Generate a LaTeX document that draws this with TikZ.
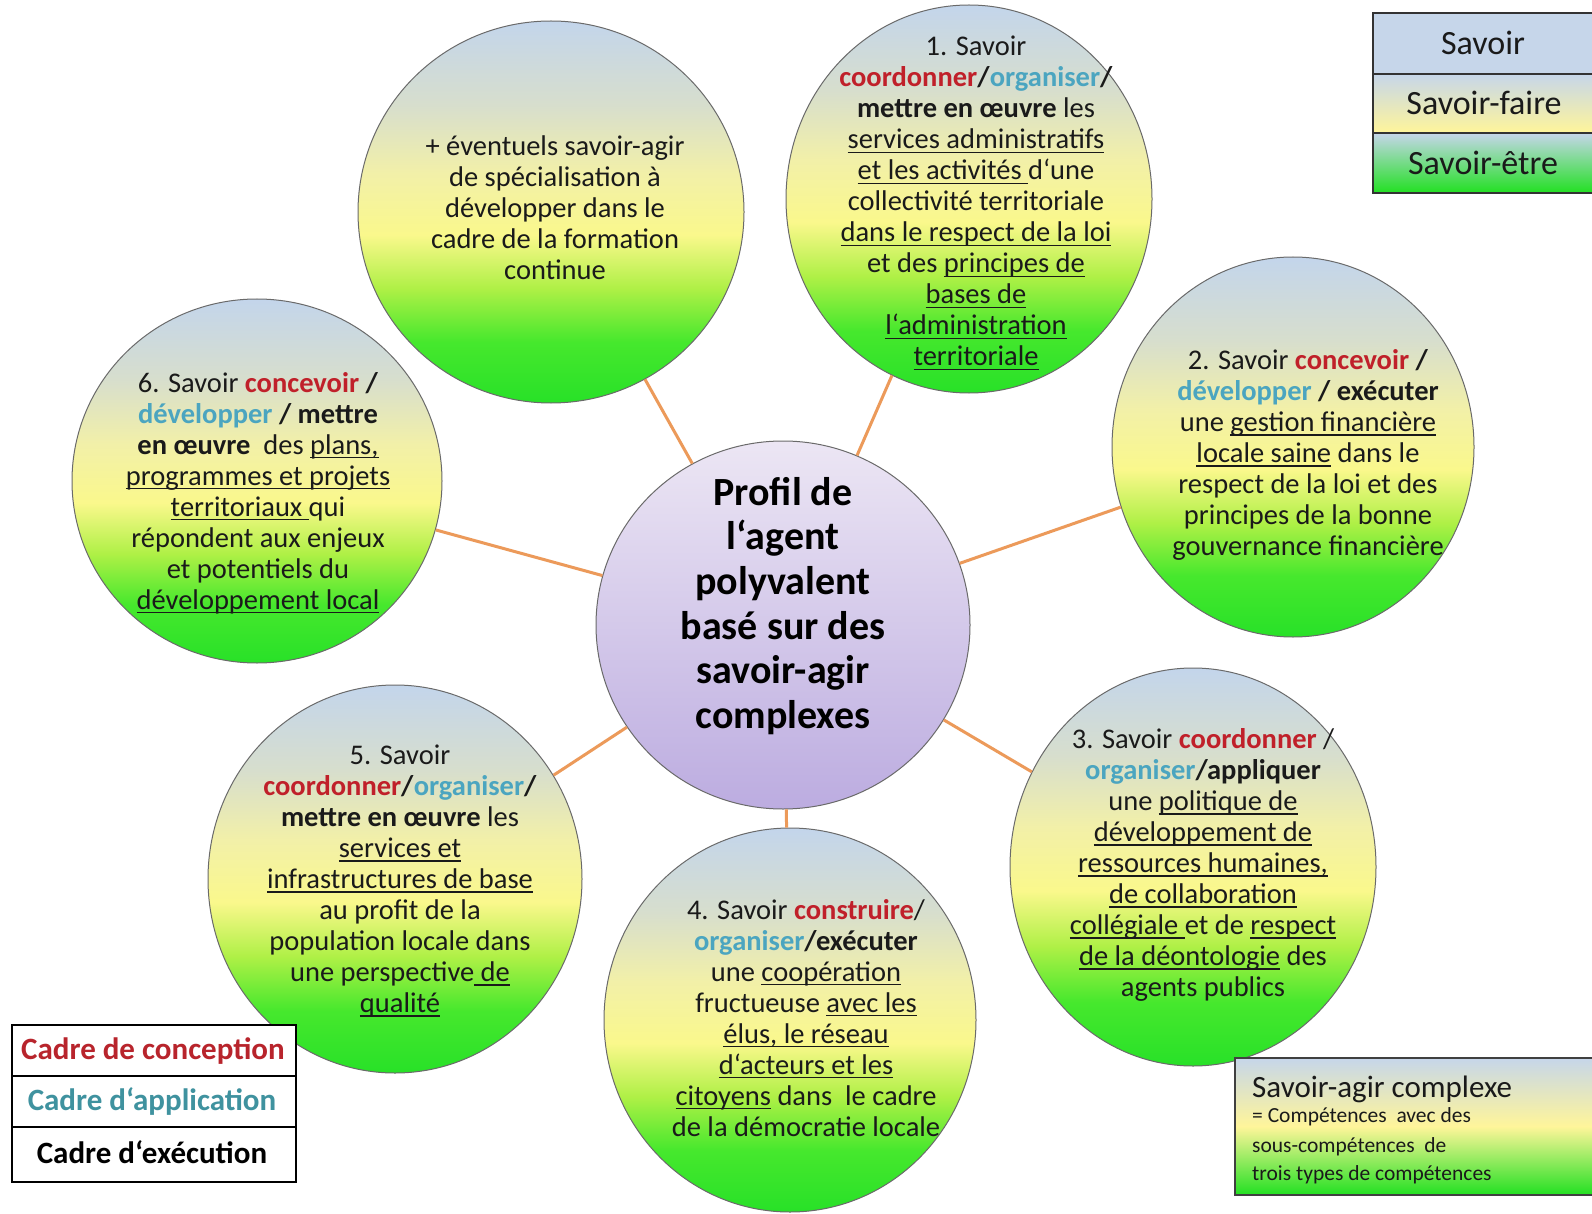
\documentclass[tikz,border=0pt]{standalone}
\usepackage{fontspec}
\setmainfont{Carlito}
\usetikzlibrary{shapes.geometric}
\definecolor{g0}{HTML}{28E128}
\definecolor{g1}{HTML}{46E82D}
\definecolor{g2}{HTML}{AFF046}
\definecolor{g3}{HTML}{FAF88C}
\definecolor{g4}{HTML}{F2F0A8}
\definecolor{g5}{HTML}{D7DECD}
\definecolor{g6}{HTML}{C3D5EB}
\definecolor{cred}{HTML}{C0202A}
\definecolor{cteal}{HTML}{4BA5C0}
\definecolor{txt}{HTML}{1A1A1A}
\definecolor{corange}{HTML}{EC9A5A}
\definecolor{cgray}{HTML}{6A6A6A}
\definecolor{lavtop}{HTML}{ECE6F4}
\definecolor{lavbot}{HTML}{BCACE0}
\definecolor{lgblue}{HTML}{C6D6EA}
\definecolor{lgyellow}{HTML}{FFF59A}
\definecolor{lggreen}{HTML}{22E022}
\definecolor{lgred}{HTML}{B8242C}
\definecolor{lgteal}{HTML}{3F929F}
\pgfdeclareverticalshading{circshade}{100bp}{color(0bp)=(g0); color(25bp)=(g0); color(33bp)=(g1); color(40bp)=(g2); color(47bp)=(g3); color(55bp)=(g4); color(64bp)=(g5); color(75bp)=(g6); color(100bp)=(g6)}
\newcommand\uu[1]{\setbox0\hbox{#1}\rlap{\rule[-4pt]{\wd0}{1.2pt}}\box0\relax}
\newcommand\redw[1]{\textbf{\textcolor{cred}{#1}}}
\newcommand\tealw[1]{\textbf{\textcolor{cteal}{#1}}}
\begin{document}
\begin{tikzpicture}[x=1pt,y=-1pt,
  bubble/.style={ellipse, draw=cgray, line width=1pt, shading=circshade, inner sep=0pt},
  hub/.style={ellipse, draw=cgray, line width=1pt, top color=lavtop, bottom color=lavbot, inner sep=0pt},
  body/.style={align=center, inner sep=0pt, text=txt, font=\fontsize{28.5}{31}\selectfont},
  hubtext/.style={align=center, inner sep=0pt, text=black, font=\fontsize{40}{44.7}\selectfont\bfseries},
  conn/.style={draw=corange, line width=3pt},
  legtext/.style={inner sep=0pt, font=\fontsize{34}{40}\selectfont},
  cadre/.style={inner sep=0pt, font=\fontsize{31}{36}\selectfont\bfseries},
  agirsmall/.style={inner sep=0pt, anchor=base west, text=txt, font=\fontsize{21.5}{29}\selectfont}]
\clip (0,0) rectangle (1592,1214);
\fill[white] (0,0) rectangle (1592,1214);

% bubbles
\node[hub, minimum width=374pt, minimum height=368pt] (c0) at (783,625) {};
\node[bubble, minimum width=386pt, minimum height=382pt] (c7) at (551,212) {};
\node[bubble, minimum width=366pt, minimum height=388pt] (c1) at (969,199) {};
\node[bubble, minimum width=362pt, minimum height=380pt] (c2) at (1293,447) {};
\node[bubble, minimum width=366pt, minimum height=398pt] (c3) at (1193,867) {};
\node[bubble, minimum width=372pt, minimum height=384pt] (c4) at (790,1020) {};
\node[bubble, minimum width=374pt, minimum height=388pt] (c5) at (395,879) {};
\node[bubble, minimum width=370pt, minimum height=364pt] (c6) at (257,481) {};

% connectors
\draw[conn] (c0) -- (c7);
\draw[conn] (c0) -- (c1);
\draw[conn] (c0) -- (c2);
\draw[conn] (c0) -- (c3);
\draw[conn] (c0) -- (c4);
\draw[conn] (c0) -- (c5);
\draw[conn] (c0) -- (c6);

% texts
\node[hubtext] (t0) at (783,606) {Profil de\\l‘agent\\polyvalent\\basé sur des\\savoir-agir\\complexes};

\node[body] (t7) at (555,208) {+ éventuels savoir-agir\\de spécialisation à\\développer dans le\\cadre de la formation\\continue};

\node[body] (t1) at (976,203) {1. Savoir\\\redw{coordonner}\textbf{/}\tealw{organiser}\textbf{/}\\\textbf{mettre en œuvre} les\\\uu{services administratifs}\\\uu{et les activités }d‘une\\collectivité territoriale\\\uu{dans le respect de la loi}\\et des \uu{principes de}\\\uu{bases de}\\\uu{l‘administration}\\\uu{territoriale}};

\node[body] (t2) at (1308,455) {2. Savoir \redw{concevoir} \textbf{/}\\\tealw{développer} \textbf{/ exécuter}\\une \uu{gestion financière}\\\uu{locale saine} dans le\\respect de la loi et des\\principes de la bonne\\gouvernance financière};

\node[body] (t3) at (1203,865) {3. Savoir \redw{coordonner} /\\\tealw{organiser}\textbf{/appliquer}\\une \uu{politique de}\\\uu{développement de}\\\uu{ressources humaines,}\\\uu{de collaboration}\\\uu{collégiale }et de \uu{respect}\\\uu{de la déontologie} des\\agents publics};

\node[body] (t4) at (806,1018) {4. Savoir \redw{construire}/\\\tealw{organiser}\textbf{/exécuter}\\une \uu{coopération}\\fructueuse \uu{avec les}\\\uu{élus, le réseau}\\\uu{d‘acteurs et les}\\\uu{citoyens} dans~ le cadre\\de la démocratie locale};

\node[body] (t5) at (400,881) {5. Savoir\\\redw{coordonner}\textbf{/}\tealw{organiser}\textbf{/}\\\textbf{mettre en œuvre} les\\\uu{services et}\\\uu{infrastructures de base}\\au profit de la\\population locale dans\\une perspective\uu{ de}\\\uu{qualité}};

\node[body] (t6) at (258,493) {6. Savoir \redw{concevoir} \textbf{/}\\\tealw{développer} \textbf{/ mettre}\\\textbf{en œuvre}~ des \uu{plans,}\\\uu{programmes et projets}\\\uu{territoriaux }qui\\répondent aux enjeux\\et potentiels du\\\uu{développement local}};

% legend top right
\path[fill=lgblue] (1373,13) rectangle (1600,74);
\path[top color=lgblue, bottom color=lgyellow] (1373,74) rectangle (1600,133);
\path[top color=lgblue, bottom color=lggreen] (1373,133) rectangle (1600,193);
\draw[line width=1.3pt, draw=black!80] (1600,13) -- (1373,13) -- (1373,193) -- (1600,193);
\draw[line width=1.3pt, draw=black!80] (1373,74) -- (1600,74);
\draw[line width=1.3pt, draw=black!80] (1373,133) -- (1600,133);
\node[legtext, text=txt] (ls1) at (1483,43) {Savoir};
\node[legtext, text=txt] (ls2) at (1484,103) {Savoir-faire};
\node[legtext, text=txt] (ls3) at (1483,163) {Savoir-être};

% legend bottom left
\draw[line width=1.3pt, fill=white] (12,1025) rectangle (296,1182);
\draw[line width=1.3pt] (12,1076) -- (296,1076);
\draw[line width=1.3pt] (12,1127) -- (296,1127);
\node[cadre, text=lgred] (lc1) at (153,1051) {Cadre de conception};
\node[cadre, text=lgteal] (lc2) at (152,1101) {Cadre d‘application};
\node[cadre, text=black] (lc3) at (152,1152) {Cadre d‘exécution};

% legend bottom right
\path[top color=lgblue, bottom color=lggreen, middle color=lgyellow] (1235,1058) rectangle (1600,1195);
\draw[line width=1.3pt, draw=black!75] (1600,1058) -- (1235,1058) -- (1235,1195) -- (1600,1195);
\node[inner sep=0pt, anchor=base west, text=txt, font=\fontsize{31}{36}\selectfont] (la0) at (1252,1097) {Savoir-agir complexe};
\node[agirsmall] (la1) at (1252,1122) {= Compétences~ avec des};
\node[agirsmall] (la2) at (1252,1152) {sous-compétences~ de};
\node[agirsmall] (la3) at (1252,1180) {trois types de compétences};
\end{tikzpicture}
\end{document}
